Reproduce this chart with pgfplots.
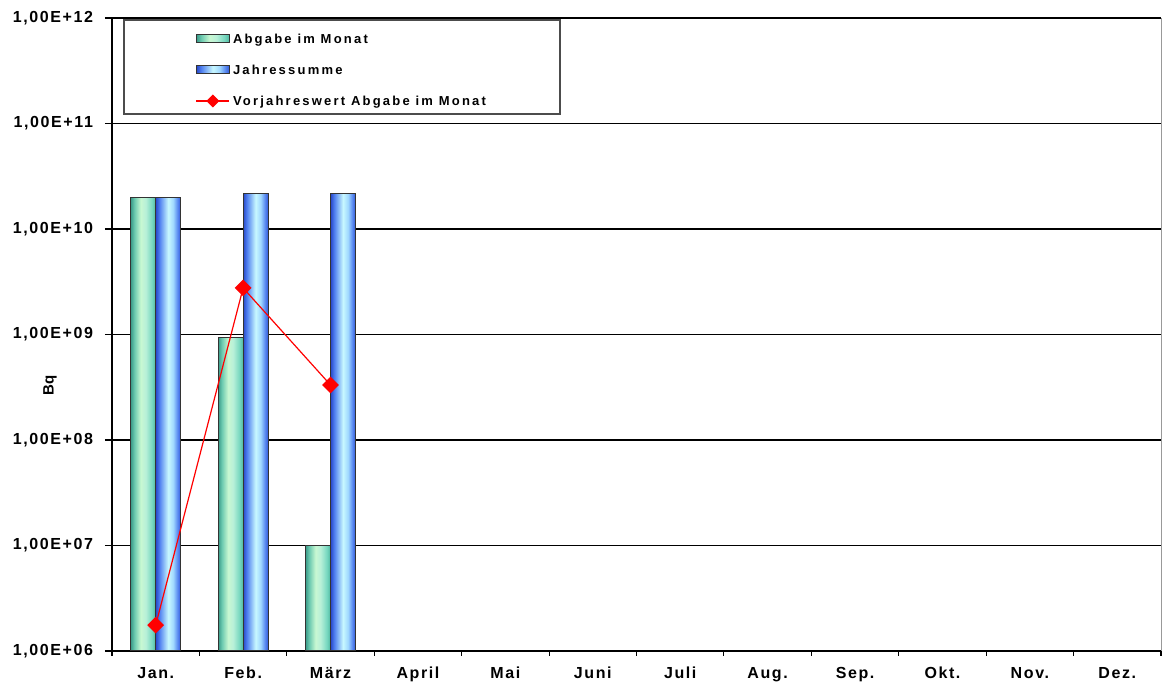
\documentclass[border=0pt]{standalone}
\usepackage{pgfplots}
\usepackage{pgfplotstable}
\pgfplotsset{compat=1.18}
\usepackage{fontspec}
\setmainfont{Liberation Sans}
\newfontfamily\tickfont[LetterSpace=10]{Liberation Sans}
\newfontfamily\xfont[LetterSpace=10]{Liberation Sans}
\newfontfamily\legfont[LetterSpace=17]{Liberation Sans}
\definecolor{g0}{HTML}{3A9A88}
\definecolor{g1}{HTML}{6CCAB0}
\definecolor{g2}{HTML}{C8F8D2}
\definecolor{g3}{HTML}{B8F0D8}
\definecolor{g4}{HTML}{78D8C0}
\definecolor{g5}{HTML}{50B8A0}
\definecolor{b0}{HTML}{2848C8}
\definecolor{b1}{HTML}{5080F0}
\definecolor{b2}{HTML}{C8F8FF}
\definecolor{b3}{HTML}{A0D8FF}
\definecolor{b4}{HTML}{5888F0}
\definecolor{b5}{HTML}{3058D8}
\pgfdeclarehorizontalshading{greenbar}{100bp}{color(0bp)=(g0); color(25bp)=(g0); color(32.5bp)=(g1); color(45bp)=(g2); color(55bp)=(g3); color(67.5bp)=(g4); color(75bp)=(g5); color(100bp)=(g5)}
\pgfdeclarehorizontalshading{bluebar}{100bp}{color(0bp)=(b0); color(25bp)=(b0); color(32.5bp)=(b1); color(50bp)=(b2); color(60bp)=(b3); color(69bp)=(b4); color(75bp)=(b5); color(100bp)=(b5)}
\pgfplotsset{
  barleg/.style={legend image code/.code={\path (-54pt,0pt); \draw[##1] (0pt,-5.25pt) rectangle (24.75pt,0.75pt);}},
  lineleg/.style={legend image code/.code={\path (-54pt,0pt); \draw[mark repeat=2, mark phase=2, mark size=3pt, ##1] plot coordinates {(0pt,-2.25pt) (12.375pt,-2.25pt) (24.75pt,-2.25pt)};}},
  gbar/.style={ybar, bar width=0.2855, bar shift=-0.143, draw=black!80, line width=0.75pt,
    shade, shading=greenbar, barleg},
  bbar/.style={ybar, bar width=0.2855, bar shift=0.143, draw=black!80, line width=0.75pt,
    shade, shading=bluebar, barleg},
}
% Vorjahreswert Abgabe im Monat
\pgfplotstableread{
m v
0 1.76e6
1 2.76e9
2 3.32e8
}\vorjahr
\begin{document}
\begin{tikzpicture}
\begin{axis}[
  scale only axis, width=786.75pt, height=474.75pt,
  ymode=log, ymin=1e6, ymax=1e12, log origin=infty,
  xmin=-0.5, xmax=11.5,
  ytick={1e6,1e7,1e8,1e9,1e10,1e11,1e12},
  yticklabels={{1,00E+06},{1,00E+07},{1,00E+08},{1,00E+09},{1,00E+10},{1,00E+11},{1,00E+12}},
  yminorticks=false,
  xtick={0,...,11},
  xticklabels={Jan.,Feb.,März,April,Mai,Juni,Juli,Aug.,Sep.,Okt.,Nov.,Dez.},
  minor xtick={-0.5,0.5,...,11.5},
  tick align=outside,
  major tick length=5.25pt,
  minor tick length=3.75pt,
  major x tick style={draw=none},
  tick style={black, line width=0.8pt},
  axis x line*=bottom, axis y line*=left,
  axis line style={black, line width=1.2pt},
  ymajorgrids, grid style={black, line width=0.9pt},
  yticklabel style={font=\tickfont\bfseries\fontsize{12}{14}\selectfont, xshift=-5.5pt},
  xticklabel style={font=\xfont\bfseries\fontsize{12}{14}\selectfont, yshift=-3.5pt},
  ylabel={Bq},
  ylabel style={at={(axis description cs:-0.059,0.42)}, anchor=center, font=\bfseries\fontsize{11.25}{13}\selectfont},
  legend style={at={(axis description cs:0,1)}, anchor=north west, xshift=8.25pt, yshift=-0.75pt,
    draw=black!70, line width=1.2pt, inner xsep=0pt, inner ysep=0.5pt,
    font=\legfont\bfseries\fontsize{9.75}{11}\selectfont, cells={anchor=west},
    nodes={inner sep=0pt, minimum height=23.25pt, text height=11pt, text depth=0pt}, column sep=2.25pt},
  after end axis/.code={\draw[black!40, line width=0.75pt] (rel axis cs:1,0) -- (rel axis cs:1,1);},
]
% Abgabe im Monat
\addplot[gbar] coordinates {(0,2.0e10)};
\addlegendentry{\makebox[245.25pt][l]{Abgabe im Monat}}
\addplot[gbar, forget plot] coordinates {(1,9.3e8)};
\addplot[gbar, forget plot] coordinates {(2,1.0e7)};
% Jahressumme
\addplot[bbar] coordinates {(0,2.0e10)};
\addlegendentry{\makebox[245.25pt][l]{Jahressumme}}
\addplot[bbar, forget plot] coordinates {(1,2.15e10)};
\addplot[bbar, forget plot] coordinates {(2,2.15e10)};
% Vorjahreswert
\addplot[red, line width=0.9pt, mark=square*, mark size=4pt, mark options={rotate=45, solid}, lineleg]
  table[x=m, y=v]{\vorjahr};
\addlegendentry{\makebox[245.25pt][l]{Vorjahreswert Abgabe im Monat}}
\end{axis}
\path (current axis.south west) ++(-84pt,-26.25pt);
\path (current axis.north east) ++(1.5pt,13.5pt);
\end{tikzpicture}
\end{document}
